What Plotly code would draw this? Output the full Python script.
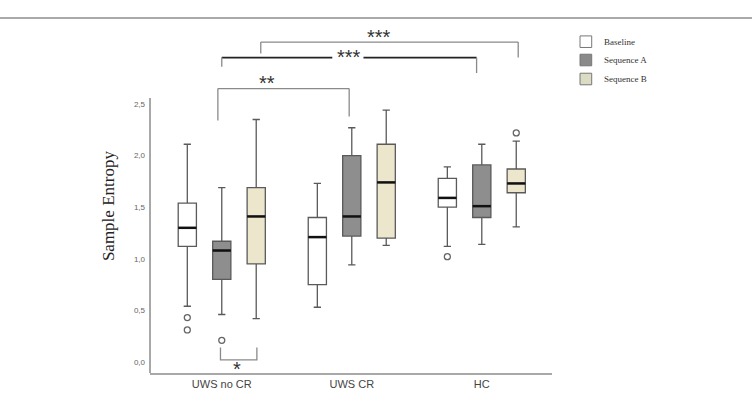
import plotly.graph_objects as go

# ---------------- data ----------------
categories = ["UWS no CR", "UWS CR", "HC"]
series_names = ["Baseline", "Sequence A", "Sequence B"]

baseline_q1 = [1.12, 0.75, 1.50]
baseline_median = [1.30, 1.21, 1.59]
baseline_q3 = [1.54, 1.40, 1.78]
baseline_low = [0.54, 0.53, 1.12]
baseline_high = [2.11, 1.73, 1.89]
baseline_outliers = [[0.43, 0.31], [], [1.02]]

seqA_q1 = [0.80, 1.22, 1.40]
seqA_median = [1.08, 1.41, 1.51]
seqA_q3 = [1.17, 2.00, 1.91]
seqA_low = [0.46, 0.94, 1.14]
seqA_high = [1.69, 2.27, 2.11]
seqA_outliers = [[0.21], [], []]

seqB_q1 = [0.95, 1.20, 1.64]
seqB_median = [1.41, 1.74, 1.73]
seqB_q3 = [1.69, 2.11, 1.87]
seqB_low = [0.42, 1.13, 1.31]
seqB_high = [2.35, 2.44, 2.14]
seqB_outliers = [[], [], [2.22]]

y_ticks = [0.0, 0.5, 1.0, 1.5, 2.0, 2.5]

# significance brackets: (x_left, x_right, y_bar, y_left_end, y_right_end, label, x_label, y_label)
brackets = [
    (0.30, 2.28, 3.10, 2.99, 2.95, "***", 1.21, 3.15),
    (0.00, 1.96, 2.95, 2.86, 2.80, "***", 0.98, 2.96),
    (-0.03, 0.98, 2.65, 2.34, 2.38, "**", 0.35, 2.70),
]
low_bracket = (-0.01, 0.27, 0.14, 0.02, "*", 0.12, -0.07)

# ---------------- style ----------------
offsets = [-0.265, 0.0, 0.265]
box_w = 0.14
fills = ["#ffffff", "#8e8e8e", "#ece6cd"]
legend_fills = ["#ffffff", "#8a8a8a", "#dcdcc4"]
edge = "#5a5a5a"

stats = [
    (baseline_q1, baseline_median, baseline_q3, baseline_low, baseline_high, baseline_outliers),
    (seqA_q1, seqA_median, seqA_q3, seqA_low, seqA_high, seqA_outliers),
    (seqB_q1, seqB_median, seqB_q3, seqB_low, seqB_high, seqB_outliers),
]

fig = go.Figure()
for i, (q1, med, q3, lo, hi, outs) in enumerate(stats):
    xs = [c + offsets[i] for c in range(len(categories))]
    fig.add_trace(go.Box(
        x=xs, q1=q1, median=med, q3=q3, lowerfence=lo, upperfence=hi,
        width=box_w, whiskerwidth=0.4, boxpoints=False,
        fillcolor=fills[i], line=dict(color=edge, width=1.3),
        name=series_names[i], showlegend=False,
    ))
for i, (q1, med, q3, lo, hi, outs) in enumerate(stats):
    mx, my = [], []
    for c, m in enumerate(med):
        x = c + offsets[i]
        mx += [x - box_w / 2, x + box_w / 2, None]
        my += [m, m, None]
    fig.add_trace(go.Scatter(x=mx, y=my, mode="lines", line=dict(color="#111111", width=2.5),
                             showlegend=False, hoverinfo="skip"))
    ox, oy = [], []
    for c, vals in enumerate(outs):
        for v in vals:
            ox.append(c + offsets[i])
            oy.append(v)
    if ox:
        fig.add_trace(go.Scatter(x=ox, y=oy, mode="markers",
                                 marker=dict(symbol="circle-open", size=6, color="#666666",
                                             line=dict(width=1.3)),
                                 showlegend=False, hoverinfo="skip"))

shapes = []
annotations = []
# y-axis line
shapes.append(dict(type="line", xref="x domain", yref="y", x0=0, x1=0, y0=-0.107, y1=2.558,
                   line=dict(color="#a8a8a8", width=2)))
# top rule of figure
shapes.append(dict(type="line", xref="paper", yref="paper", x0=-0.38, x1=1.5, y0=0.952, y1=0.952,
                   line=dict(color="#aaaaaa", width=2)))

# manual legend
leg_x0, leg_x1, leg_text_x = 1.0697, 1.0988, 1.124
leg_rows = [0.8882, 0.8391, 0.7882]
leg_half = 0.0155
for i, name in enumerate(series_names):
    yc = leg_rows[i]
    shapes.append(dict(type="rect", xref="paper", yref="paper", x0=leg_x0, x1=leg_x1,
                       y0=yc - leg_half, y1=yc + leg_half, fillcolor=legend_fills[i],
                       line=dict(color="#777777", width=1)))
    annotations.append(dict(x=leg_text_x, y=yc, xref="paper", yref="paper", text=name,
                            xanchor="left", yanchor="middle", showarrow=False,
                            font=dict(family="Liberation Serif", size=9, color="#333333")))

for k, (xl, xr, yb, yl, yr, lab, xt, yt) in enumerate(brackets):
    col = "#222222" if k == 1 else "#8a8a8a"
    wid = 1.8 if k == 1 else 1.3
    if k == 1:
        shapes.append(dict(type="line", x0=xl, x1=0.85, y0=yb, y1=yb, line=dict(color=col, width=wid)))
        shapes.append(dict(type="line", x0=1.09, x1=xr, y0=yb, y1=yb, line=dict(color=col, width=wid)))
    else:
        shapes.append(dict(type="line", x0=xl, x1=xr, y0=yb, y1=yb, line=dict(color=col, width=wid)))
    shapes.append(dict(type="line", x0=xl, x1=xl, y0=yb, y1=yl, line=dict(color="#8a8a8a", width=1.3)))
    shapes.append(dict(type="line", x0=xr, x1=xr, y0=yb, y1=yr, line=dict(color="#8a8a8a", width=1.3)))
    annotations.append(dict(x=xt, y=yt, text=lab, showarrow=False, xref="x", yref="y",
                            font=dict(family="Liberation Sans", size=20, color="#333333")))
xl, xr, yt_, yb_, lab, xt, ytt = low_bracket
shapes.append(dict(type="path", path=f"M {xl},{yt_} L {xl},{yb_} L {xr},{yb_} L {xr},{yt_}",
                   line=dict(color="#8a8a8a", width=1.3)))
annotations.append(dict(x=xt, y=ytt, text=lab, showarrow=False, xref="x", yref="y",
                        font=dict(family="Liberation Sans", size=20, color="#333333")))
annotations.append(dict(x=-0.1045, xref="paper", y=1.52, yref="y", text="Sample Entropy",
                        textangle=-90, showarrow=False, xanchor="center", yanchor="middle",
                        font=dict(family="Liberation Serif", size=17, color="#222222")))

fig.update_layout(
    width=752, height=396,
    margin=dict(l=150, r=200, t=0, b=23),
    plot_bgcolor="white", paper_bgcolor="white",
    separators=",.",
    shapes=shapes, annotations=annotations,
    showlegend=False,
    xaxis=dict(range=[-0.552, 2.54], tickvals=list(range(len(categories))), ticktext=categories,
               showline=True, linecolor="#a8a8a8", linewidth=2, showgrid=False, zeroline=False,
               ticks="", tickfont=dict(family="Liberation Sans", size=11, color="#444444")),
    yaxis=dict(range=[-0.107, 3.508], tickvals=y_ticks, tickformat=".1f", showline=False,
               showgrid=False, zeroline=False, ticks="", ticklabelstandoff=4,
               tickfont=dict(family="Liberation Sans", size=8, color="#666666")),
)

fig.write_html("out.html")
